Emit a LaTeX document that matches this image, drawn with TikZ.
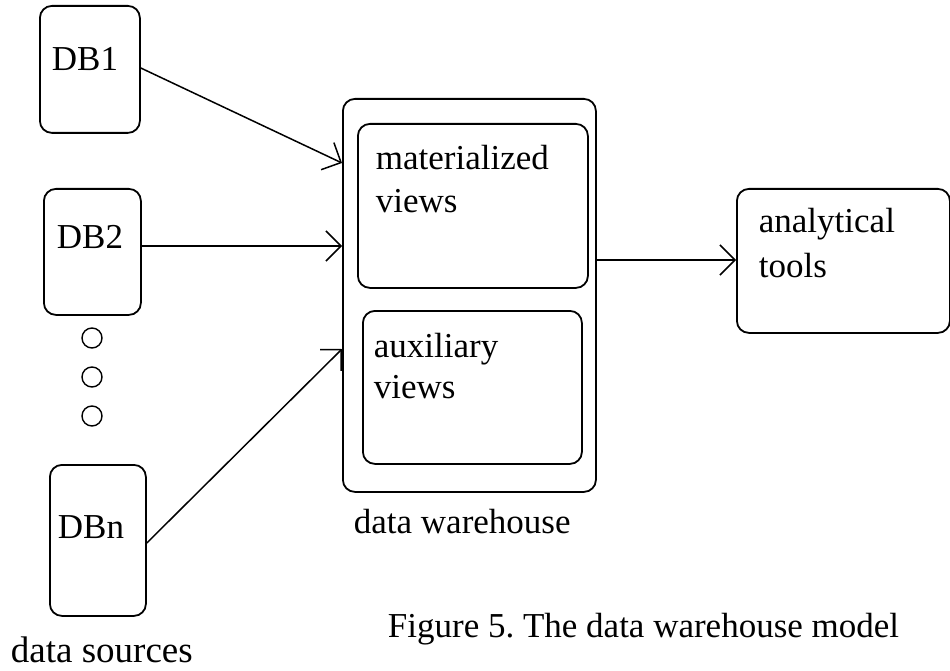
\documentclass[tikz,border=0pt]{standalone}
\usepackage{fontspec}
\setmainfont{Liberation Serif}
\usetikzlibrary{arrows.meta}
\begin{document}
\begin{tikzpicture}[x=1pt,y=-1pt,
  line width=1.8pt,
  box/.style={draw, rounded corners=12pt, inner sep=0pt},
  txt/.style={anchor=base west, inner sep=0pt, font=\fontsize{35}{40}\selectfont},
  captxt/.style={anchor=base west, inner sep=0pt, font=\fontsize{35}{40}\selectfont},
  flow/.style={-{Straight Barb[length=15pt,width=30pt,line width=1.5pt]}, line width=1.5pt}]
\useasboundingbox (0,0) rectangle (950,671);

% data sources
\node[box, minimum width=100pt, minimum height=127pt, anchor=north west] (db1) at (39,5) {};
\node[box, minimum width=97pt, minimum height=126pt, anchor=north west] (db2) at (43,188) {};
\node[box, minimum width=96pt, minimum height=151pt, anchor=north west] (dbn) at (49,464) {};
\node[txt] (t1) at (51,71) {DB1};
\node[txt] (t2) at (56,248) {DB2};
\node[txt] (tn) at (57,538) {DBn};

% ellipsis between DB2 and DBn
\foreach \y [count=\i] in {338,377,416}
  \node[draw, circle, minimum size=20pt, inner sep=0pt, line width=1.4pt] (dot\i) at (92,\y) {};

\node[captxt, font=\fontsize{37}{42}\selectfont] (srclbl) at (10,662) {data sources};

% data warehouse
\node[box, minimum width=253pt, minimum height=393pt, anchor=north west] (dw) at (342,98) {};
\node[box, minimum width=230pt, minimum height=164pt, anchor=north west] (mv) at (357,123) {};
\node[box, minimum width=219pt, minimum height=153pt, anchor=north west] (av) at (362,310) {};
\node[txt] (mvt1) at (375,170) {materialized};
\node[txt] (mvt2) at (375,212) {views};
\node[txt] (avt1) at (373,357) {auxiliary};
\node[txt] (avt2) at (373,398) {views};
\node[captxt] (dwlbl) at (353,533) {data warehouse};

% analytical tools
\node[box, minimum width=213pt, minimum height=144pt, anchor=north west] (at) at (736,188) {};
\node[txt] (att1) at (758,233) {analytical};
\node[txt] (att2) at (758,277) {tools};

% arrow end points on the warehouse border
\coordinate (in1) at (342,163);
\coordinate (in2) at (342,246);
\coordinate (in3) at (342,349);
\coordinate (out) at (595,260);

\draw[flow] (db1.east |- 0,68) -- (in1);
\draw[flow] (db2.east |- in2) -- (in2);
\draw[flow] (dbn.east |- 0,543) -- (in3);
\draw[flow] (out) -- (at.west |- out);

\node[captxt] (caption) at (387,637) {Figure 5.\ The data warehouse model};
\end{tikzpicture}
\end{document}
